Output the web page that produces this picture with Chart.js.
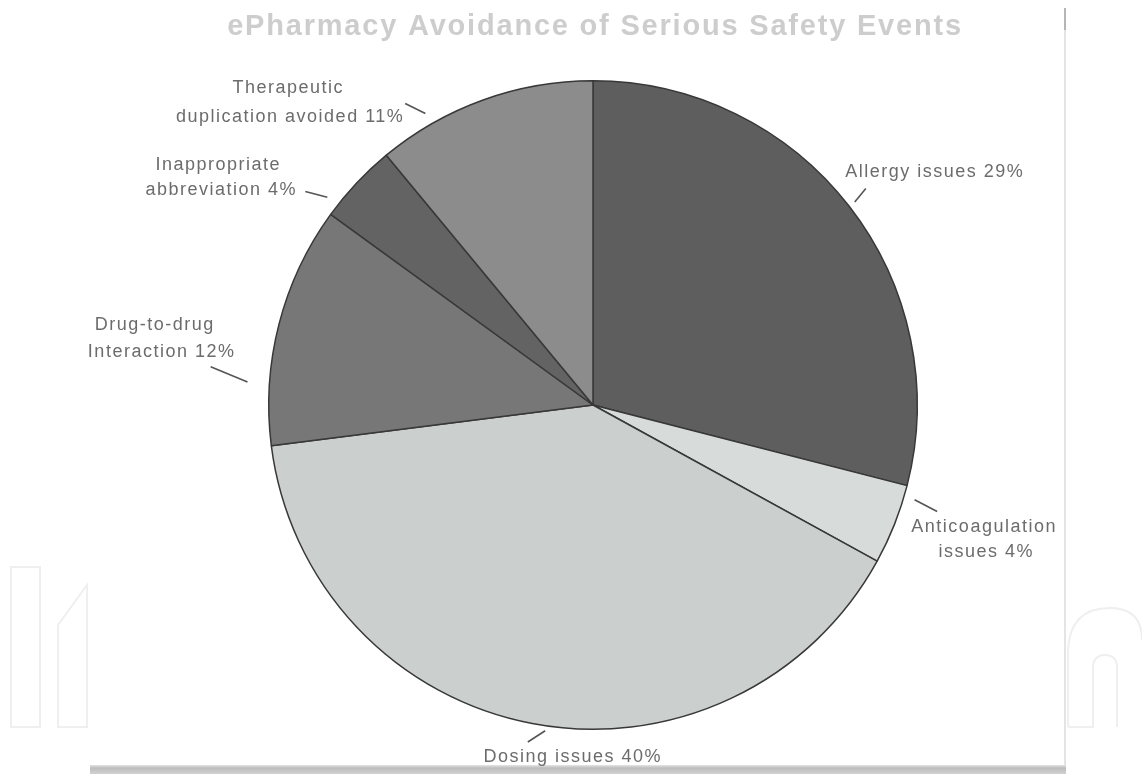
<!DOCTYPE html>
<html>
<head>
<meta charset="utf-8">
<style>
  html, body { margin: 0; padding: 0; background: #ffffff; }
  #c { display: block; }
</style>
<script src="https://cdn.jsdelivr.net/npm/chart.js@4.4.1/dist/chart.umd.min.js"></script>
</head>
<body>
<canvas id="c" width="1142" height="774"></canvas>
<script>
// ---- data ----
const titleText = 'ePharmacy Avoidance of Serious Safety Events';
const categories = ['Allergy issues', 'Anticoagulation issues', 'Dosing issues',
  'Drug-to-drug interaction', 'Inappropriate abbreviation', 'Therapeutic duplication avoided'];
const values = [29, 4, 40, 12, 4, 11];
const labelLines = [
  ['Allergy issues 29%'],
  ['Anticoagulation', 'issues 4%'],
  ['Dosing issues 40%'],
  ['Drug-to-drug', 'Interaction 12%'],
  ['Inappropriate', 'abbreviation 4%'],
  ['Therapeutic', 'duplication avoided 11%']
];

// ---- styles ----
const sliceColors = ['#5e5e5e', '#d7dbda', '#cbcfce', '#777777', '#636363', '#8c8c8c'];
// leader: fraction within slice for inner/outer point, radial gaps; text offsets from outer point
const leaders = [
  { t0: 0.50, t1: 0.494, g0: 7,  g1: 24, off: [[69, -17]] },
  { t0: 0.14, t1: 0.194, g0: 11, g1: 36, off: [[47, 16], [49, 41]] },
  { t0: 0.483, t1: 0.501, g0: 5, g1: 19, off: [[45, 15]] },
  { t0: 0.255, t1: 0.299, g0: 22, g1: 60, off: [[-56, -42], [-49, -15]] },
  { t0: 0.14, t1: 0.04, g0: 13, g1: 34, off: [[-87, -26], [-84, -1]] },
  { t0: 0.245, t1: 0.194, g0: 12, g1: 31, off: [[-117, -15], [-115, 14]] }
];

const decor = {
  id: 'decor',
  beforeDraw(chart) {
    const ctx = chart.ctx;
    ctx.save();
    // faint watermark outlines
    ctx.strokeStyle = '#efefef';
    ctx.lineWidth = 2;
    ctx.beginPath();
    ctx.rect(11, 567, 29, 160);
    ctx.moveTo(58, 727); ctx.lineTo(58, 625); ctx.lineTo(87, 585); ctx.lineTo(87, 727); ctx.closePath();
    ctx.stroke();
    ctx.beginPath();
    ctx.moveTo(1068, 727); ctx.lineTo(1068, 650);
    ctx.quadraticCurveTo(1070, 608, 1110, 608);
    ctx.quadraticCurveTo(1142, 608, 1142, 640);
    ctx.moveTo(1117, 727); ctx.lineTo(1117, 668);
    ctx.quadraticCurveTo(1117, 655, 1105, 655);
    ctx.quadraticCurveTo(1093, 655, 1093, 668);
    ctx.lineTo(1093, 727); ctx.lineTo(1068, 727);
    ctx.stroke();
    // right edge of scan
    ctx.strokeStyle = '#e4e4e4';
    ctx.lineWidth = 2;
    ctx.beginPath(); ctx.moveTo(1065, 10); ctx.lineTo(1065, 766); ctx.stroke();
    ctx.strokeStyle = '#b5b5b5';
    ctx.beginPath(); ctx.moveTo(1065, 8); ctx.lineTo(1065, 30); ctx.stroke();
    // bottom bar of scan
    const g = ctx.createLinearGradient(0, 764, 0, 774);
    g.addColorStop(0, '#f2f2f2'); g.addColorStop(0.4, '#bdbdbd'); g.addColorStop(1, '#d2d2d2');
    ctx.fillStyle = g;
    ctx.fillRect(90, 765, 976, 9);
    ctx.restore();
  },
  afterDraw(chart) {
    const ctx = chart.ctx;
    ctx.save();
    // title
    ctx.fillStyle = '#cdcdcd';
    ctx.font = 'bold 29px "Liberation Sans", Arial, sans-serif';
    ctx.letterSpacing = '1.8px';
    ctx.textAlign = 'center';
    ctx.textBaseline = 'middle';
    ctx.fillText(titleText, 595, 27);
    // labels + leaders
    const arcs = chart.getDatasetMeta(0).data;
    ctx.font = '18px "Liberation Sans", Arial, sans-serif';
    ctx.letterSpacing = '1.5px';
    arcs.forEach((arc, i) => {
      const L = leaders[i];
      const r = arc.outerRadius;
      const a0 = arc.startAngle + L.t0 * (arc.endAngle - arc.startAngle);
      const a1 = arc.startAngle + L.t1 * (arc.endAngle - arc.startAngle);
      const x0 = arc.x + (r + L.g0) * Math.cos(a0), y0 = arc.y + (r + L.g0) * Math.sin(a0);
      const x1 = arc.x + (r + L.g1) * Math.cos(a1), y1 = arc.y + (r + L.g1) * Math.sin(a1);
      ctx.strokeStyle = '#555555';
      ctx.lineWidth = 1.6;
      ctx.beginPath(); ctx.moveTo(x0, y0); ctx.lineTo(x1, y1); ctx.stroke();
      ctx.fillStyle = '#6c6c6c';
      labelLines[i].forEach((line, j) => {
        ctx.fillText(line, x1 + L.off[j][0], y1 + L.off[j][1]);
      });
    });
    ctx.restore();
  }
};

new Chart(document.getElementById('c'), {
  type: 'pie',
  data: {
    labels: categories,
    datasets: [{
      data: values,
      backgroundColor: sliceColors,
      borderColor: '#383838',
      borderWidth: 1.5
    }]
  },
  options: {
    responsive: false,
    animation: false,
    devicePixelRatio: 1,
    layout: { padding: { left: 268, right: 224, top: 80, bottom: 44 } },
    plugins: {
      legend: { display: false },
      tooltip: { enabled: false },
      title: { display: false }
    }
  },
  plugins: [decor]
});
</script>
</body>
</html>
